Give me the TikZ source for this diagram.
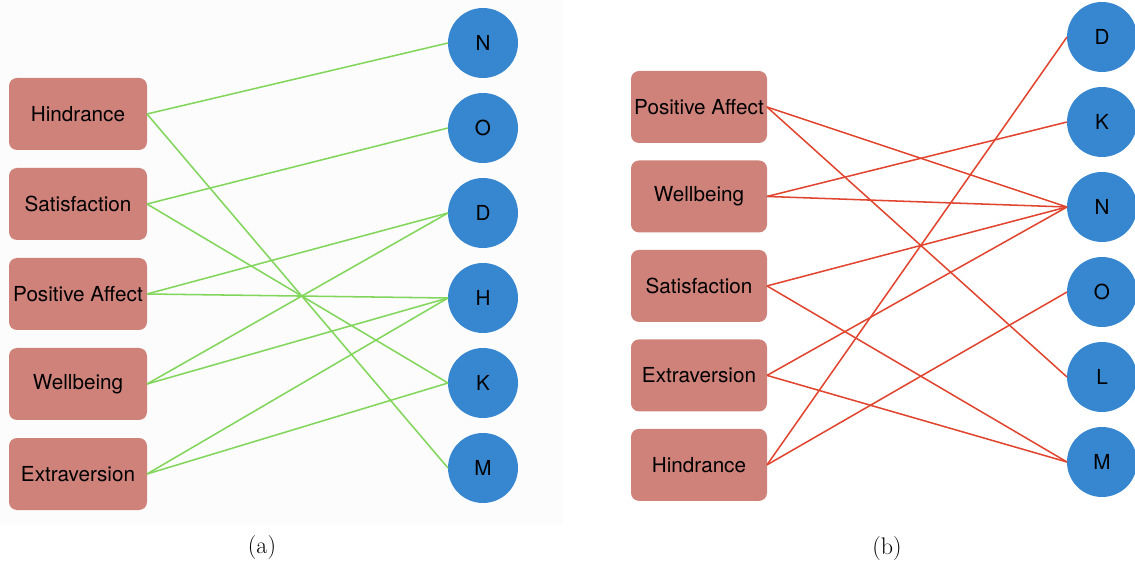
\documentclass[tikz,border=0pt]{standalone}
\usepackage{fontspec}
\setsansfont{TeX Gyre Heros}
\usetikzlibrary{positioning}
\definecolor{boxrose}{HTML}{CF827A}
\definecolor{dotblue}{HTML}{3687D0}
\definecolor{lngreen}{HTML}{82D65C}
\definecolor{lnred}{HTML}{E0452F}
\tikzset{node distance=13.5pt, x=0.75pt, y=-0.75pt}
\tikzstyle{factor} = [rectangle, rounded corners=6pt, fill=boxrose, minimum width=103.5pt, minimum height=54pt, inner sep=0pt, outer sep=0pt, font={\sffamily\fontsize{15.5}{18}\selectfont}]
\tikzstyle{trait} = [circle, fill=dotblue, minimum size=52.5pt, inner sep=0pt, outer sep=0pt, font={\sffamily\fontsize{15.5}{18}\selectfont}]
\tikzstyle{gln} = [draw=lngreen, line width=1.15pt]
\tikzstyle{rln} = [draw=lnred, line width=1.15pt]
\tikzstyle{caption} = [font={\fontsize{18}{21}\selectfont}]

\begin{document}
\begin{tikzpicture}
    \useasboundingbox (0,0) rectangle (1135,566);
    \fill[black!1] (0,0) rectangle (563,525);

    % Nodes (a)
    \node[factor] (lhind) at (78,114) {Hindrance};
    \node[factor, below=of lhind] (lsat) {Satisfaction};
    \node[factor, below=of lsat] (lpos) {Positive Affect};
    \node[factor, below=of lpos] (lwell) {Wellbeing};
    \node[factor, below=of lwell] (lextra) {Extraversion};

    \node[trait] (ln) at (483,43) {N};
    \node[trait, below=11.25pt of ln] (lo) {O};
    \node[trait, below=11.25pt of lo] (ld) {D};
    \node[trait, below=11.25pt of ld] (lh) {H};
    \node[trait, below=11.25pt of lh] (lk) {K};
    \node[trait, below=11.25pt of lk] (lm) {M};

    % Nodes (b)
    \node[factor, minimum width=102pt] (rpos) at (699,107) {Positive Affect};
    \node[factor, minimum width=102pt, below=13.1pt of rpos] (rwell) {Wellbeing};
    \node[factor, minimum width=102pt, below=13.1pt of rwell] (rsat) {Satisfaction};
    \node[factor, minimum width=102pt, below=13.1pt of rsat] (rextra) {Extraversion};
    \node[factor, minimum width=102pt, below=13.1pt of rextra] (rhind) {Hindrance};

    \node[trait] (rd) at (1102,37) {D};
    \node[trait, below=11.25pt of rd] (rk) {K};
    \node[trait, below=11.25pt of rk] (rn) {N};
    \node[trait, below=11.25pt of rn] (ro) {O};
    \node[trait, below=11.25pt of ro] (rl) {L};
    \node[trait, below=11.25pt of rl] (rm) {M};

    % Captions
    \node[caption] (capa) at (262,548) {(a)};
    \node[caption] (capb) at (887,549) {(b)};

    % Paths (a)
    \draw[gln] (lhind.east) -- (ln.west);
    \draw[gln] (lhind.east) -- (lm.west);
    \draw[gln] (lsat.east) -- (lo.west);
    \draw[gln] (lsat.east) -- (lk.west);
    \draw[gln] (lpos.east) -- (ld.west);
    \draw[gln] (lpos.east) -- (lh.west);
    \draw[gln] (lwell.east) -- (ld.west);
    \draw[gln] (lwell.east) -- (lh.west);
    \draw[gln] (lextra.east) -- (lh.west);
    \draw[gln] (lextra.east) -- (lk.west);

    % Paths (b)
    \draw[rln] (rpos.east) -- (rn.west);
    \draw[rln] (rpos.east) -- (rl.west);
    \draw[rln] (rwell.east) -- (rk.west);
    \draw[rln] (rwell.east) -- (rn.west);
    \draw[rln] (rsat.east) -- (rn.west);
    \draw[rln] (rsat.east) -- (rm.west);
    \draw[rln] (rextra.east) -- (rn.west);
    \draw[rln] (rextra.east) -- (rm.west);
    \draw[rln] (rhind.east) -- (rd.west);
    \draw[rln] (rhind.east) -- (ro.west);
\end{tikzpicture}
\end{document}
